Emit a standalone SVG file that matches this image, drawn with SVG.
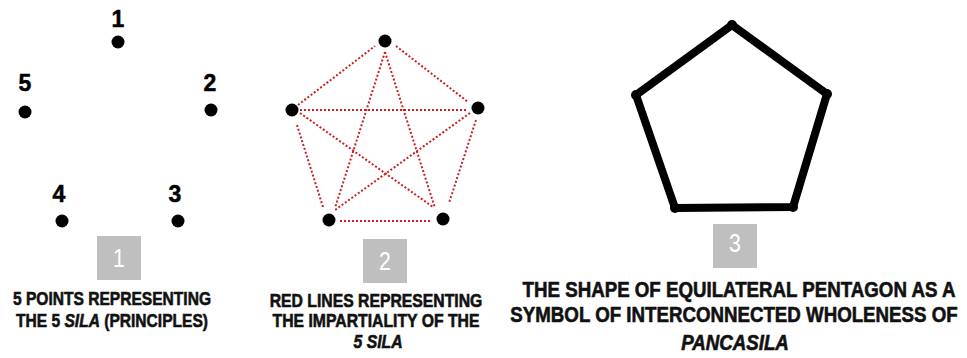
<svg xmlns="http://www.w3.org/2000/svg" width="967" height="358" viewBox="0 0 967 358">
<style>
.bg{fill:#ffffff}
.dot{fill:#000000}
.num{font-family:"Liberation Sans",Arial,sans-serif;font-weight:bold;font-size:23px;fill:#000;stroke:#000;stroke-width:0.5;text-anchor:middle}
.box{fill:#bfbfbf}
.boxnum{font-family:"Liberation Sans",Arial,sans-serif;font-size:25px;fill:#ffffff;text-anchor:middle}
.cap{font-family:"Liberation Sans",Arial,sans-serif;font-weight:bold;fill:#111;stroke:#111;stroke-width:0.6;text-anchor:middle}
.c12{font-size:19px}
.c3{font-size:21.5px}
.it{font-style:italic}
.red{stroke:#cc2020;stroke-width:2;stroke-dasharray:2 2;fill:none}
.pent{stroke:#000;stroke-width:8;stroke-linejoin:round;fill:none}
</style>
<rect class="bg" x="0" y="0" width="967" height="358"/>

<g id="panel1">
  <g id="p1-point1"><circle class="dot" cx="118" cy="42" r="6.5"/><text class="num" x="118" y="27">1</text></g>
  <g id="p1-point2"><circle class="dot" cx="211" cy="110" r="6.5"/><text class="num" x="210" y="91">2</text></g>
  <g id="p1-point3"><circle class="dot" cx="178" cy="221" r="6.5"/><text class="num" x="175" y="202">3</text></g>
  <g id="p1-point4"><circle class="dot" cx="62" cy="221" r="6.5"/><text class="num" x="59" y="202">4</text></g>
  <g id="p1-point5"><circle class="dot" cx="25" cy="112" r="6.5"/><text class="num" x="25" y="91">5</text></g>
  <g id="p1-badge"><rect class="box" x="97" y="236" width="44" height="44"/><text class="boxnum" transform="translate(119,267) scale(0.85,1)">1</text></g>
  <g id="p1-caption">
    <text class="cap c12" transform="translate(112,305) scale(0.82,1)">5 POINTS REPRESENTING</text>
    <text class="cap c12" transform="translate(112,327) scale(0.82,1)">THE 5 <tspan class="it">SILA</tspan> (PRINCIPLES)</text>
  </g>
</g>

<g id="panel2">
  <g id="connectors">
    <line class="red" x1="298" y1="105" x2="375" y2="46"/>
    <line class="red" x1="396" y1="46" x2="468" y2="102"/>
    <line class="red" x1="297" y1="125" x2="323" y2="207"/>
    <line class="red" x1="476" y1="120" x2="449" y2="203"/>
    <line class="red" x1="340" y1="221" x2="431" y2="221"/>
    <line class="red" x1="300" y1="110" x2="468" y2="110"/>
    <line class="red" x1="385" y1="52" x2="335" y2="208"/>
    <line class="red" x1="385" y1="52" x2="435" y2="208"/>
    <line class="red" x1="300" y1="113" x2="433" y2="207"/>
    <line class="red" x1="470" y1="113" x2="335" y2="210"/>
  </g>
  <g id="p2-node1"><circle class="dot" cx="385" cy="41" r="6.5"/></g>
  <g id="p2-node2"><circle class="dot" cx="478" cy="108" r="6.5"/></g>
  <g id="p2-node3"><circle class="dot" cx="443" cy="219" r="6.5"/></g>
  <g id="p2-node4"><circle class="dot" cx="329" cy="220" r="6.5"/></g>
  <g id="p2-node5"><circle class="dot" cx="292" cy="110" r="6.5"/></g>
  <g id="p2-badge"><rect class="box" x="363" y="239" width="44" height="44"/><text class="boxnum" transform="translate(385,270) scale(0.85,1)">2</text></g>
  <g id="p2-caption">
    <text class="cap c12" transform="translate(376,307) scale(0.83,1)">RED LINES REPRESENTING</text>
    <text class="cap c12" transform="translate(376,327) scale(0.83,1)">THE IMPARTIALITY OF THE</text>
    <text class="cap c12 it" transform="translate(378,348) scale(0.83,1)">5 SILA</text>
  </g>
</g>

<g id="panel3">
  <g id="p3-pentagon">
    <polygon class="pent" points="732,25 827,94 793,207 675,208 636,95"/>
    <circle class="dot" cx="732" cy="25" r="5"/>
    <circle class="dot" cx="827" cy="94" r="5"/>
    <circle class="dot" cx="793" cy="207" r="5"/>
    <circle class="dot" cx="675" cy="208" r="5"/>
    <circle class="dot" cx="636" cy="95" r="5"/>
  </g>
  <g id="p3-badge"><rect class="box" x="713" y="224" width="44" height="44"/><text class="boxnum" transform="translate(735,252) scale(0.85,1)">3</text></g>
  <g id="p3-caption">
    <text class="cap c3" transform="translate(739,297) scale(0.87,1)">THE SHAPE OF EQUILATERAL PENTAGON AS A</text>
    <text class="cap c3" transform="translate(734,322) scale(0.87,1)">SYMBOL OF INTERCONNECTED WHOLENESS OF</text>
    <text class="cap c3 it" transform="translate(735,350) scale(0.87,1)">PANCASILA</text>
  </g>
</g>
</svg>
